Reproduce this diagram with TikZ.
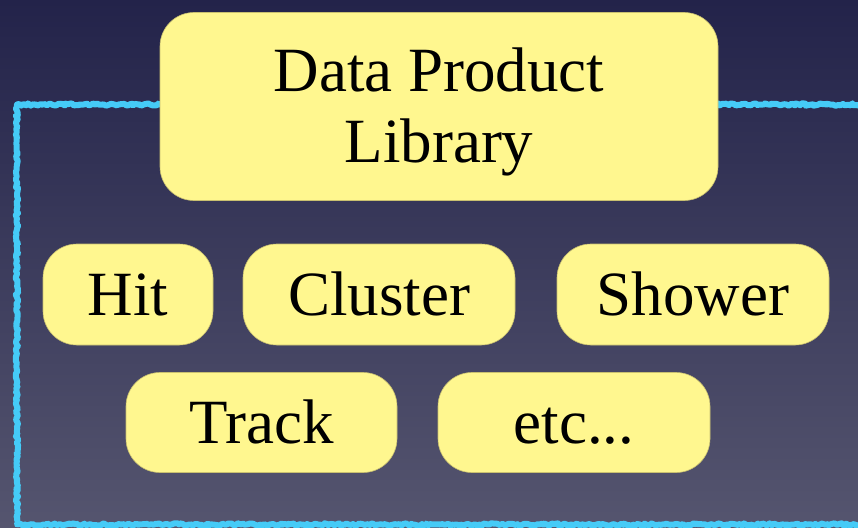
\documentclass[tikz,border=0pt]{standalone}
\usepackage{fontspec}
\setmainfont{Liberation Serif}
\usetikzlibrary{decorations.pathmorphing}

\definecolor{bgtop}{HTML}{23234A}
\definecolor{bgbottom}{HTML}{55556F}
\definecolor{cardfill}{HTML}{FFF78F}
\definecolor{cardedge}{HTML}{C9C070}
\definecolor{framecyan}{HTML}{45CBF7}

\tikzset{
  card/.style={draw=cardedge, line width=0.6pt, fill=cardfill, rounded corners=34pt,
    inner sep=0pt, font=\fontsize{63}{71}\selectfont, text=black,
    text height=42pt, text depth=0pt},
  chalk/.style={draw=framecyan, line width=6pt, line join=round,
    decorate, decoration={random steps, segment length=2pt, amplitude=1.2pt}},
}

\begin{document}
\begin{tikzpicture}[x=1pt,y=-1pt]
  % canvas and background
  \useasboundingbox (0,0) rectangle (858,527);
  \shade[top color=bgtop, bottom color=bgbottom] (0,0) rectangle (858,527);
  \clip (0,0) rectangle (858,527);

  % hand-drawn cyan frame, running off the right edge
  \coordinate (frTR) at (880,104.5);
  \coordinate (frTL) at (17,104.5);
  \coordinate (frBL) at (17,524.5);
  \coordinate (frBR) at (880,524.5);
  \draw[chalk] (frTR) -- (frTL) -- (frBL) -- (frBR);

  % library box
  \node[card, minimum width=558pt, minimum height=188pt] (lib) at (439,106.5) {};
  \node[font=\fontsize{63}{71}\selectfont, align=center, inner sep=0pt]
    (libtext) at ([yshift=-5pt]lib.center) {Data Product\\Library};

  % data products
  \node[card, minimum width=170pt, minimum height=101pt] (hit) at (128,294.5) {Hit};
  \node[card, minimum width=272pt, minimum height=101pt] (cluster) at (379,294.5) {Cluster};
  \node[card, minimum width=272pt, minimum height=101pt] (shower) at (693,294.5) {Shower};
  \node[card, minimum width=271pt, minimum height=100pt] (track) at (261.5,422.5) {Track};
  \node[card, minimum width=272pt, minimum height=100pt] (etc) at (574,422.5) {etc...};
\end{tikzpicture}
\end{document}
